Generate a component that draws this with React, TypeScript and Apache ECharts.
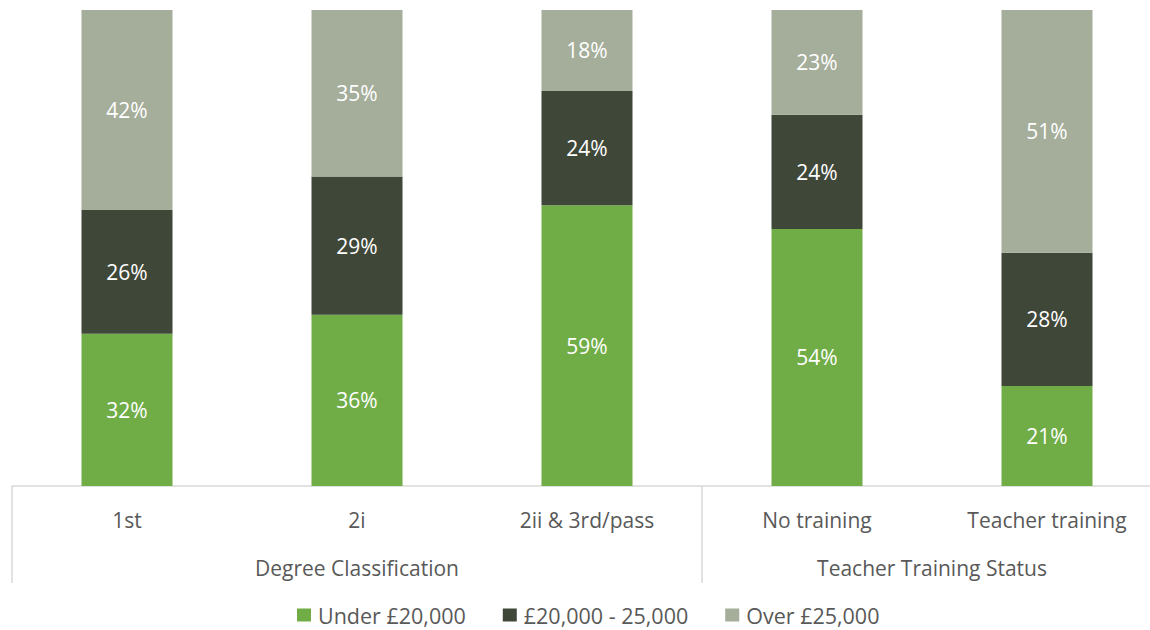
import React, { useEffect, useRef } from "react";
import * as echarts from "echarts";

const categories = ["1st", "2i", "2ii & 3rd/pass", "No training", "Teacher training"];
const groups = ["Degree Classification", "Teacher Training Status"];
const groupSizes = [3, 2];
const seriesNames = ["Under £20,000", "£20,000 - 25,000", "Over £25,000"];
const under20k = [32, 36, 59, 54, 21];
const mid20to25k = [26, 29, 24, 24, 28];
const over25k = [42, 35, 18, 23, 51];
const colors = ["#70AD47", "#3F4739", "#A5AD9B"];

const FONT = "Open Sans";

export default function App() {
  const ref = useRef<HTMLDivElement>(null);
  useEffect(() => {
    if (!ref.current) return;
    const chart = echarts.init(ref.current, null, { renderer: "svg" });
    const boundaries: number[] = [0];
    const centers: number[] = [];
    let acc = 0;
    groupSizes.forEach((s) => {
      centers.push(acc + s / 2);
      acc += s;
      boundaries.push(acc);
    });
    const values = [under20k, mid20to25k, over25k];
    chart.setOption({
      animation: false,
      textStyle: { fontFamily: FONT },
      grid: {
        left: 12,
        top: 10,
        width: 1150,
        height: 476,
        containLabel: false,
        outerBoundsMode: "none",
      },
      legend: {
        top: 604,
        left: 297,
        padding: 0,
        itemWidth: 14,
        itemHeight: 13,
        itemGap: 37,
        icon: "rect",
        textStyle: { fontSize: 21.5, color: "#595959", fontFamily: FONT, padding: [0, 0, 0, 2] },
        data: seriesNames,
      },
      xAxis: [
        {
          type: "category",
          data: categories,
          axisLine: { show: true, lineStyle: { color: "#D9D9D9", width: 1.5 } },
          axisTick: { show: false },
          axisLabel: { fontSize: 21, color: "#595959", margin: 23, fontFamily: FONT },
        },
        {
          type: "value",
          position: "bottom",
          min: 0,
          max: categories.length,
          gridIndex: 0,
          axisLine: { show: false },
          splitLine: { show: false },
          axisTick: {
            show: true,
            customValues: boundaries,
            length: 97,
            lineStyle: { color: "#D9D9D9", width: 1.5 },
          },
          axisLabel: {
            customValues: centers,
            fontSize: 21,
            color: "#595959",
            margin: 71,
            fontFamily: FONT,
            formatter: (v: number) => {
              const i = centers.findIndex((c) => Math.abs(c - v) < 1e-6);
              return i >= 0 ? groups[i] : "";
            },
          },
        },
      ],
      yAxis: { type: "value", min: 0, max: 100, show: false },
      series: seriesNames.map((name, i) => ({
        name,
        type: "bar",
        stack: "total",
        xAxisIndex: 0,
        barWidth: 91,
        data: values[i],
        itemStyle: { color: colors[i] },
        label: {
          show: true,
          position: "inside",
          formatter: "{c}%",
          color: "#FFFFFF",
          fontSize: 21,
          fontFamily: FONT,
        },
      })),
    });
    return () => chart.dispose();
  }, []);
  return (
    <div
      ref={ref}
      style={{ position: "fixed", left: 0, top: 0, width: 1150, height: 630, background: "#fff" }}
    />
  );
}
